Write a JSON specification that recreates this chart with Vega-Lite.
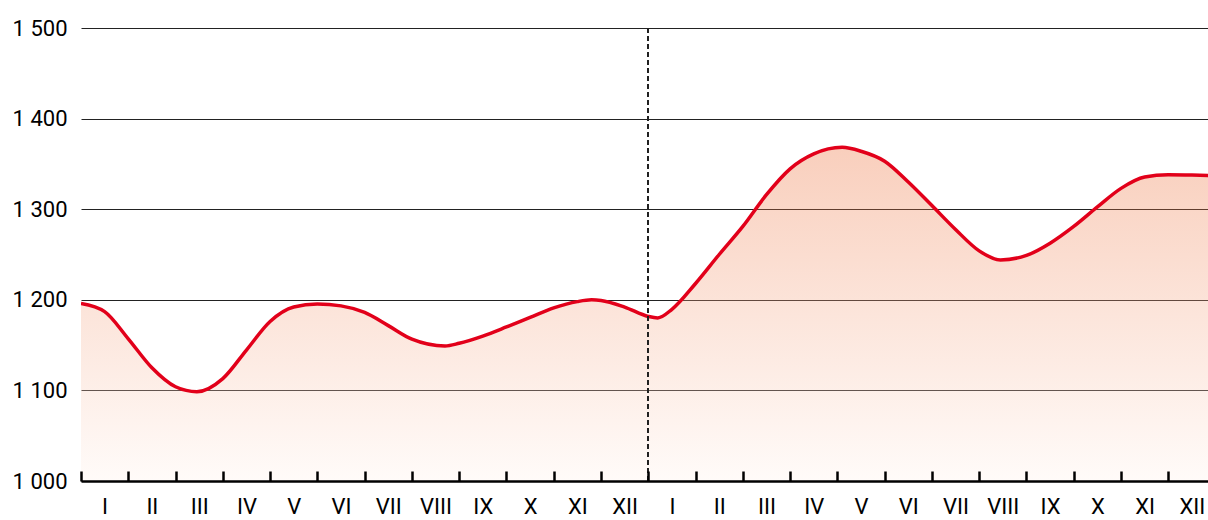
{
  "$schema": "https://vega.github.io/schema/vega-lite/v6.json",
  "width": 1127,
  "height": 453,
  "autosize": {"type": "none"},
  "padding": {"left": 81, "top": 28, "right": 0, "bottom": 39},
  "background": "white",
  "config": {
    "view": {"stroke": null},
    "font": "Roboto",
    "axis": {"labelFont": "Roboto", "labelFontSize": 22, "labelColor": "#000000", "title": null}
  },
  "data": {
    "values": [
      {"t": 0, "v": 1196}, {"t": 0.5, "v": 1187}, {"t": 1, "v": 1157}, {"t": 1.5, "v": 1125},
      {"t": 2, "v": 1104}, {"t": 2.45, "v": 1098.5}, {"t": 3, "v": 1113}, {"t": 3.5, "v": 1144.5},
      {"t": 4, "v": 1176}, {"t": 4.5, "v": 1192}, {"t": 5, "v": 1195.3}, {"t": 5.5, "v": 1193.3},
      {"t": 6, "v": 1186}, {"t": 6.5, "v": 1171.5}, {"t": 7, "v": 1156.5}, {"t": 7.7, "v": 1149},
      {"t": 8, "v": 1152}, {"t": 8.5, "v": 1160}, {"t": 9, "v": 1170}, {"t": 9.5, "v": 1180.5},
      {"t": 10, "v": 1191}, {"t": 10.5, "v": 1198}, {"t": 10.8, "v": 1200}, {"t": 11, "v": 1199.3},
      {"t": 11.5, "v": 1192}, {"t": 12, "v": 1181.6}, {"t": 12.2, "v": 1180}, {"t": 12.5, "v": 1189.5},
      {"t": 13, "v": 1218}, {"t": 13.5, "v": 1250}, {"t": 14, "v": 1281}, {"t": 14.5, "v": 1316},
      {"t": 15, "v": 1344.5}, {"t": 15.5, "v": 1361}, {"t": 16.1, "v": 1368.3}, {"t": 16.5, "v": 1364},
      {"t": 17, "v": 1353}, {"t": 17.5, "v": 1330}, {"t": 18, "v": 1304}, {"t": 18.5, "v": 1277.6},
      {"t": 19, "v": 1254}, {"t": 19.45, "v": 1244}, {"t": 20, "v": 1249}, {"t": 20.5, "v": 1262.5},
      {"t": 21, "v": 1281}, {"t": 21.5, "v": 1302.5}, {"t": 22, "v": 1323}, {"t": 22.5, "v": 1335.5},
      {"t": 23, "v": 1338}, {"t": 23.5, "v": 1337.7}, {"t": 24, "v": 1337}
    ]
  },
  "encoding": {
    "x": {
      "field": "t", "type": "quantitative",
      "scale": {"domain": [0, 23.84], "nice": false, "zero": false},
      "axis": {
        "values": [0,1,2,3,4,5,6,7,8,9,10,11,12,13,14,15,16,17,18,19,20,21,22,23],
        "labelExpr": "['I','II','III','IV','V','VI','VII','VIII','IX','X','XI','XII'][datum.value % 12]",
        "labelOffset": 23.6,
        "labelFontSize": 22,
        "labelFlush": false,
        "labelOverlap": false,
        "labelBound": false,
        "grid": false,
        "zindex": 1,
        "domainColor": "#000000",
        "domainWidth": 2.5,
        "tickColor": "#000000",
        "tickWidth": 2.5,
        "tickSize": -10,
        "labelPadding": 25
      }
    },
    "y": {
      "field": "v", "type": "quantitative",
      "scale": {"domain": [1000, 1500], "nice": false, "zero": false},
      "axis": {
        "values": [1000, 1100, 1200, 1300, 1400, 1500],
        "labelExpr": "replace(format(datum.value, ','), ',', ' ')",
        "domain": false,
        "ticks": false,
        "labelPadding": 14,
        "grid": true,
        "gridColor": "#222222",
        "gridWidth": 1
      }
    }
  },
  "layer": [
    {
      "mark": {
        "type": "area",
        "interpolate": "monotone",
        "clip": true,
        "fillOpacity": 0.3,
        "color": {
          "gradient": "linear", "x1": 0, "y1": 0, "x2": 0, "y2": 1,
          "stops": [
            {"offset": 0, "color": "#eb5f23"},
            {"offset": 1, "color": "#fff2eb"}
          ]
        }
      },
      "encoding": {"y2": {"datum": 1000}}
    },
    {
      "mark": {"type": "line", "interpolate": "monotone", "clip": true, "color": "#e2001a", "strokeWidth": 3.5}
    },
    {
      "mark": {"type": "rule", "color": "#222222", "strokeWidth": 1, "strokeDash": [5, 3]},
      "encoding": {"x": {"datum": 12}, "y": null}
    }
  ]
}
